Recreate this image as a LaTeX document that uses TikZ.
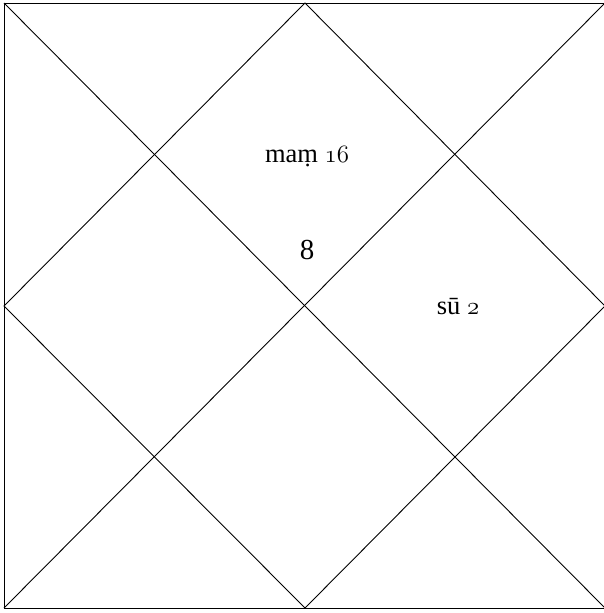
\documentclass[tikz,border=0pt]{standalone}
\usepackage{fontspec}
\setmainfont{Liberation Serif}
\usetikzlibrary{positioning}
\newcommand{\osn}[1]{$\mathnormal{#1}$}
\tikzset{
  chart/.style ={draw=black, line width=0.9pt},
  graha/.style ={font=\fontsize{26.5}{30}\selectfont, inner sep=0pt},
  rasi/.style  ={font=\fontsize{29}{32}\selectfont, inner sep=0pt}
}

\begin{document}
\begin{tikzpicture}[x=1pt, y=-1pt]
\useasboundingbox (0,0) rectangle (604,613);
% corners and mid points of the chart
\coordinate (nw) at (4,3);
\coordinate (ne) at (605,3);
\coordinate (se) at (605,608);
\coordinate (sw) at (4,608);
\coordinate (n) at (305,3);
\coordinate (e) at (605,306);
\coordinate (s) at (305,608);
\coordinate (w) at (4,306);

\draw[chart] (nw) -- (ne) -- (se) -- (sw) -- cycle;
\draw[chart] (nw) -- (se);
\draw[chart] (ne) -- (sw);
\draw[chart] (n) -- (e) -- (s) -- (w) -- cycle;

\node[graha] (mars) at (307,157) {maṃ \osn{16}};
\node[rasi] (lagna) at (307,250) {8};
\node[graha] (sun) at (458,307) {sū \osn{2}};
\end{tikzpicture}
\end{document}
